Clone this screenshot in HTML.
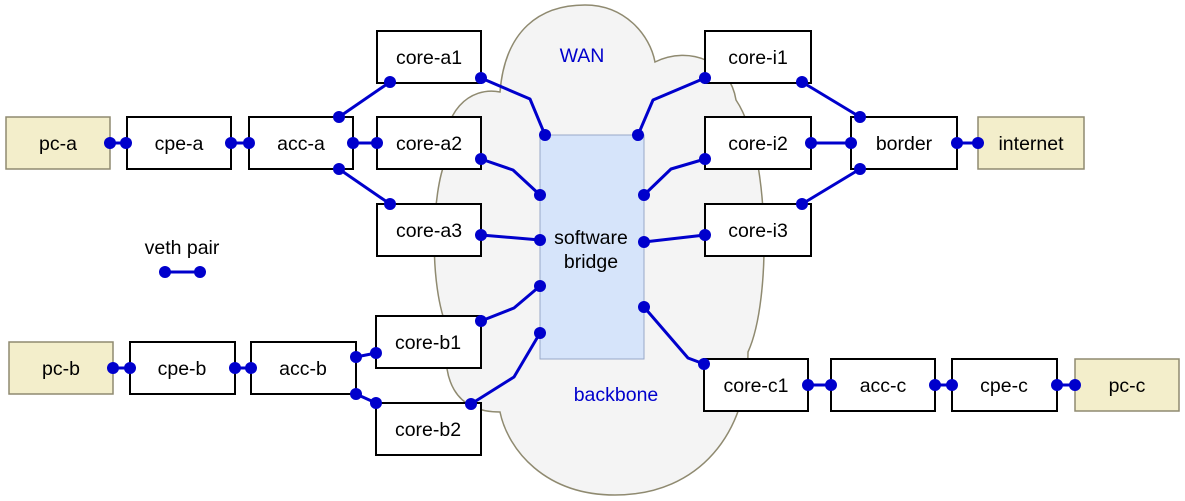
<!DOCTYPE html>
<html><head><meta charset="utf-8"><style>
html,body{margin:0;padding:0;background:#fff;}
svg{display:block;}
text{font-family:"Liberation Sans",Arial,sans-serif;font-size:19.5px;}
</style></head><body>
<svg width="1185" height="501" viewBox="0 0 1185 501" xmlns="http://www.w3.org/2000/svg">
<path d="M500,92 C505,30 540,5 585,5 C625,5 650,35 655,62 C690,45 730,62 736,100 C770,150 772,300 748,352 C748,432 700,495 615,495 C545,495 508,450 500,412 C455,412 440,380 448,330 C428,285 432,190 446,160 C440,112 470,86 500,92 Z" fill="#f4f4f4" stroke="#8f8a70" stroke-width="1.5"/>
<rect x="540" y="135" width="104" height="224" fill="#d6e4fa" stroke="#98a8c8" stroke-width="1"/>
<text x="591" y="244" text-anchor="middle">software</text>
<text x="591" y="268" text-anchor="middle">bridge</text>
<text x="582" y="62" text-anchor="middle" fill="#0000cc">WAN</text>
<text x="616" y="401" text-anchor="middle" fill="#0000cc">backbone</text>
<g stroke="#000" stroke-width="2" fill="#fff">
<rect x="127" y="117" width="104" height="52"/>
<rect x="249" y="117" width="104" height="52"/>
<rect x="377" y="31" width="104" height="52"/>
<rect x="377" y="117" width="104" height="52"/>
<rect x="377" y="204" width="104" height="52"/>
<rect x="130" y="342" width="105" height="52"/>
<rect x="251" y="342" width="105" height="52"/>
<rect x="376" y="316" width="105" height="52"/>
<rect x="376" y="403" width="105" height="52"/>
<rect x="705" y="31" width="106" height="52"/>
<rect x="705" y="117" width="106" height="52"/>
<rect x="705" y="204" width="106" height="52"/>
<rect x="851" y="117" width="106" height="52"/>
<rect x="704" y="359" width="104" height="52"/>
<rect x="831" y="359" width="104" height="52"/>
<rect x="952" y="359" width="105" height="52"/>
</g>
<g stroke="#8f8a70" stroke-width="1.5" fill="#f3eecb">
<rect x="6" y="117" width="104" height="52"/>
<rect x="9" y="342" width="104" height="52"/>
<rect x="978" y="117" width="106" height="52"/>
<rect x="1075" y="359" width="104" height="52"/>
</g>
<g text-anchor="middle">
<text x="58" y="150">pc-a</text>
<text x="179" y="150">cpe-a</text>
<text x="301" y="150">acc-a</text>
<text x="429" y="64">core-a1</text>
<text x="429" y="150">core-a2</text>
<text x="429" y="237">core-a3</text>
<text x="61" y="375">pc-b</text>
<text x="182" y="375">cpe-b</text>
<text x="303" y="375">acc-b</text>
<text x="428" y="349">core-b1</text>
<text x="428" y="436">core-b2</text>
<text x="758" y="64">core-i1</text>
<text x="758" y="150">core-i2</text>
<text x="758" y="237">core-i3</text>
<text x="904" y="150">border</text>
<text x="1031" y="150">internet</text>
<text x="756" y="392">core-c1</text>
<text x="883" y="392">acc-c</text>
<text x="1004" y="392">cpe-c</text>
<text x="1127" y="392">pc-c</text>
<text x="182" y="254">veth pair</text>
</g>
<g stroke="#0000cc" stroke-width="3" fill="none" stroke-linejoin="round">
<path d="M110,143 L126,143"/><path d="M231,143 L249,143"/>
<path d="M339,117 L390,82"/><path d="M353,143 L377,143"/><path d="M339,169 L390,204"/>
<path d="M481,78 L530,99 L545,135"/><path d="M481,159 L513,170 L540,195"/><path d="M481,235 L540,240"/>
<path d="M113,368 L130,368"/><path d="M235,368 L251,368"/>
<path d="M356,357 L376,353"/><path d="M356,394 L376,403"/>
<path d="M481,321 L514,308 L540,286"/><path d="M471,404 L514,377 L540,333"/>
<path d="M644,307 L688,358 L704,364"/>
<path d="M705,78 L653,100 L638,135"/><path d="M705,159 L671,169 L644,195"/><path d="M705,235 L644,242"/>
<path d="M802,82 L860,117"/><path d="M811,143 L851,143"/><path d="M860,169 L802,204"/><path d="M957,143 L978,143"/>
<path d="M808,385 L831,385"/><path d="M935,385 L952,385"/><path d="M1057,385 L1075,385"/>
<path d="M165,272 L200,272"/>
</g>
<g fill="#0000cc">
<circle cx="110" cy="143" r="6"/><circle cx="126" cy="143" r="6"/>
<circle cx="231" cy="143" r="6"/><circle cx="249" cy="143" r="6"/>
<circle cx="339" cy="117" r="6"/><circle cx="390" cy="82" r="6"/>
<circle cx="353" cy="143" r="6"/><circle cx="377" cy="143" r="6"/>
<circle cx="339" cy="169" r="6"/><circle cx="390" cy="204" r="6"/>
<circle cx="481" cy="78" r="6"/><circle cx="545" cy="135" r="6"/>
<circle cx="481" cy="159" r="6"/><circle cx="540" cy="195" r="6"/>
<circle cx="481" cy="235" r="6"/><circle cx="540" cy="240" r="6"/>
<circle cx="113" cy="368" r="6"/><circle cx="130" cy="368" r="6"/>
<circle cx="235" cy="368" r="6"/><circle cx="251" cy="368" r="6"/>
<circle cx="356" cy="357" r="6"/><circle cx="376" cy="353" r="6"/>
<circle cx="356" cy="394" r="6"/><circle cx="376" cy="403" r="6"/>
<circle cx="481" cy="321" r="6"/><circle cx="540" cy="286" r="6"/>
<circle cx="471" cy="404" r="6"/><circle cx="540" cy="333" r="6"/>
<circle cx="644" cy="307" r="6"/><circle cx="704" cy="364" r="6"/>
<circle cx="705" cy="78" r="6"/><circle cx="638" cy="135" r="6"/>
<circle cx="705" cy="159" r="6"/><circle cx="644" cy="195" r="6"/>
<circle cx="705" cy="235" r="6"/><circle cx="644" cy="242" r="6"/>
<circle cx="802" cy="82" r="6"/><circle cx="860" cy="117" r="6"/>
<circle cx="811" cy="143" r="6"/><circle cx="851" cy="143" r="6"/>
<circle cx="860" cy="169" r="6"/><circle cx="802" cy="204" r="6"/>
<circle cx="957" cy="143" r="6"/><circle cx="978" cy="143" r="6"/>
<circle cx="808" cy="385" r="6"/><circle cx="831" cy="385" r="6"/>
<circle cx="935" cy="385" r="6"/><circle cx="952" cy="385" r="6"/>
<circle cx="1057" cy="385" r="6"/><circle cx="1075" cy="385" r="6"/>
<circle cx="165" cy="272" r="6"/><circle cx="200" cy="272" r="6"/>
</g>
</svg>
</body></html>
